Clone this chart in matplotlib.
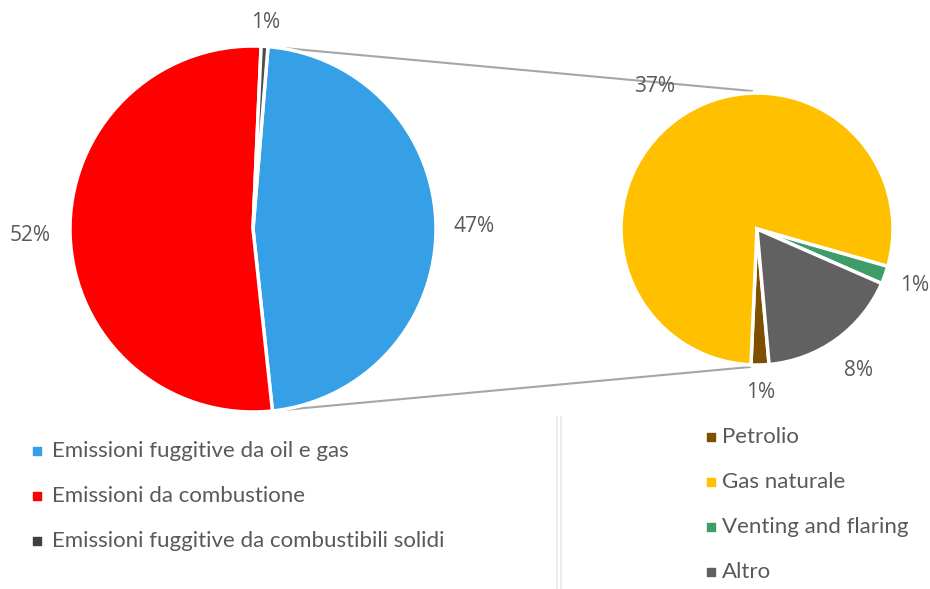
import numpy as np
import matplotlib.pyplot as plt

# main pie: share of emissions
main_labels = ["Emissioni fuggitive da oil e gas", "Emissioni da combustione",
               "Emissioni fuggitive da combustibili solidi"]
main_values = [47.0, 52.4, 0.6]
main_colors = ["#36A0E6", "#FF0000", "#4D4D4D"]

# breakdown of fugitive oil & gas (percent of total)
sub_labels = ["Petrolio", "Gas naturale", "Venting and flaring", "Altro"]
sub_values = [1, 37, 1, 8]
sub_colors = ["#7F4F00", "#FFC000", "#3D9C68", "#616161"]

txt_color = "#595959"
plt.rcParams['font.family'] = ['Open Sans', 'DejaVu Sans']

fig = plt.figure(figsize=(9.3, 5.89), dpi=100)
ax = fig.add_axes([0, 0, 1, 1])

c1, r1 = (253, 229), 183
c2, r2 = (757, 229), 136

# y axis is flipped below, so counterclock=True reads as clockwise
w1, _ = ax.pie(main_values, colors=main_colors, center=c1, radius=r1,
               startangle=-85.3, counterclock=True,
               wedgeprops=dict(edgecolor='white', linewidth=2.5))
w2, _ = ax.pie(sub_values, colors=sub_colors, center=c2, radius=r2,
               startangle=84.9, counterclock=True,
               wedgeprops=dict(edgecolor='white', linewidth=2.5))
ax.set_xlim(0, 930)
ax.set_ylim(589, 0)
ax.set_aspect('equal')
ax.axis('off')

def put_labels(wedges, values, c, r, dists):
    for w, v, d in zip(wedges, values, dists):
        a = np.deg2rad((w.theta1 + w.theta2) / 2)
        x = c[0] + d * r * np.cos(a)
        y = c[1] + d * r * np.sin(a)
        ax.text(x, y, f"{round(v + 1e-9):d}%", ha='center', va='center',
                fontsize=15, color=txt_color)

put_labels(w1, main_values, c1, r1, [1.21, 1.22, 1.13])
put_labels(w2, sub_values, c2, r2, [1.2, 1.29, 1.23, 1.28])

# connector lines from the oil & gas slice to the breakdown pie
t1 = np.deg2rad(w1[0].theta1)
t2 = np.deg2rad(w1[0].theta2)
p_top = (c1[0] + r1 * np.cos(t1), c1[1] + r1 * np.sin(t1))
p_bot = (c1[0] + r1 * np.cos(t2), c1[1] + r1 * np.sin(t2))
ax.plot([p_top[0], 752], [p_top[1], 91], color="#A6A6A6", lw=1.5, zorder=0)
ax.plot([p_bot[0], 750], [p_bot[1], 367], color="#A6A6A6", lw=1.5, zorder=0)

# separator between legends
ax.plot([557, 557], [417, 589], color="#E6E6E6", lw=1.2)
ax.plot([561, 561], [417, 589], color="#E6E6E6", lw=1.2)

# legends
for i, (lab, col) in enumerate(zip(main_labels, main_colors)):
    y = 451 + i * 45
    ax.scatter(37, y, marker='s', s=30, color=col if i < 2 else "#404040")
    ax.text(52, y, lab, ha='left', va='center', fontsize=16,
            color=txt_color, family=['Lato', 'DejaVu Sans'])

for i, (lab, col) in enumerate(zip(sub_labels, sub_colors)):
    y = 437 + i * 45
    ax.scatter(711, y, marker='s', s=30, color=col)
    ax.text(722, y, lab, ha='left', va='center', fontsize=16,
            color=txt_color, family=['Lato', 'DejaVu Sans'])

fig.savefig("out.png", dpi=100)
